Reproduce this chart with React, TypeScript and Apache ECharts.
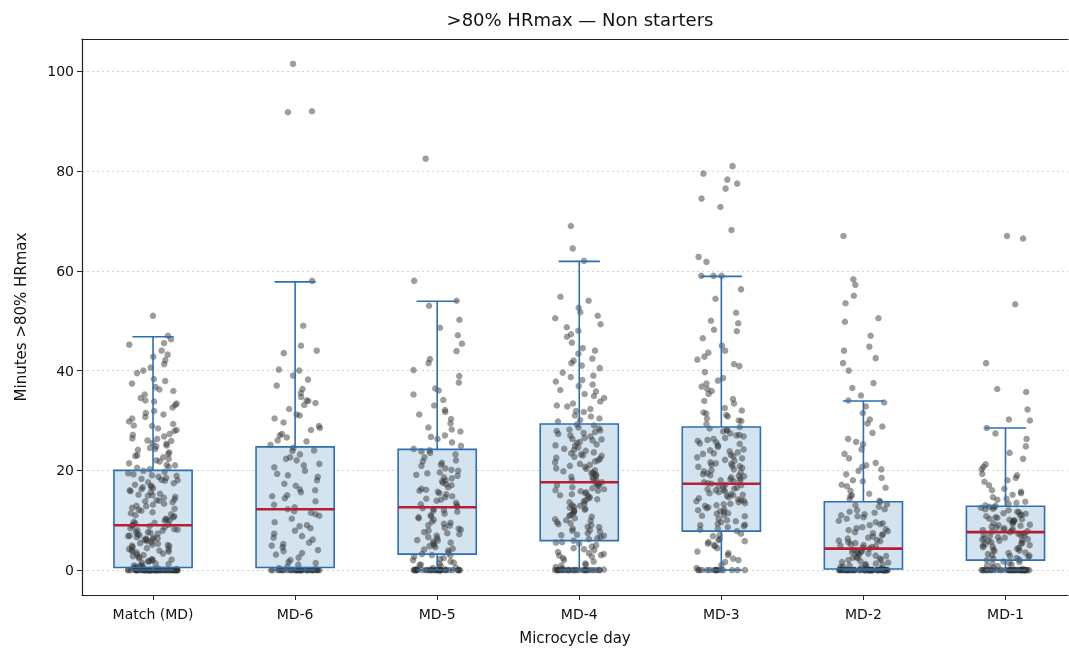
import React, { useEffect, useRef } from "react";
import * as echarts from "echarts";

const categories = ["Match (MD)", "MD-6", "MD-5", "MD-4", "MD-3", "MD-2", "MD-1"];
const yTicks = [0, 20, 40, 60, 80, 100];

// Box statistics
const boxLow = [0, 0, 0, 0, 0, 0, 0];
const boxQ1 = [0.5, 0.5, 3.2, 5.9, 7.8, 0.2, 2.0];
const boxMedian = [9.0, 12.2, 12.6, 17.6, 17.3, 4.3, 7.6];
const boxQ3 = [20.0, 24.7, 24.2, 29.3, 28.7, 13.7, 12.8];
const boxHigh = [46.8, 57.8, 53.9, 61.9, 58.9, 33.9, 28.5];

// Individual observations (estimated)
const matchPts = [
  0,0,0,0,0,0,0,0,0,0, 0,0,0,0,0,0,0,0,0,0, 0,0,0,0,0,0,0,0,0,0, 0,0,0,0,0,0,0,0,0,0,
  0,0,0,0,0,0,0.1,0.2,0.3,0.4, 0.6,0.9,1.2,1.3,1.7,2.1,2.2,2.6,3.0,3.1,
  3.5,3.8,4.1,4.2,4.6,4.9,5.3,5.4,5.8,6.0, 6.1,6.5,6.6,6.9,7.2,7.3,7.7,7.9,8.0,8.4,
  8.6,8.8,9.0,1.5,2.8,4.4,5.1,6.3,7.5,8.2, 9.1,9.4,9.5,9.9,10.2,10.3,10.8,11.0,11.4,11.6,
  11.9,12.3,12.5,12.9,13.1,13.6,13.8,14.0,14.5,14.7, 15.1,15.3,15.8,16.0,16.4,16.7,16.9,17.4,17.6,18.0,
  18.3,18.5,18.9,19.2,19.4,19.7,19.9,12.1,14.2,16.2, 20.2,20.7,21.1,21.4,22.0,22.3,22.9,23.3,23.6,24.1,
  24.5,25.0,25.3,25.9,26.4,26.8,27.3,27.9,28.4,28.9, 29.3,29.8,30.4,31.2,31.9,32.6,33.1,33.8,34.5,35.2,
  35.9,36.7,37.4,38.3,39.5,40.6,41.3,42.1,42.8,44.0, 45.2,45.5,46.3,47.0,51.0,21.8,23.0,26.0,28.1,30.7,
  0.2,1.9,3.3,4.8,6.8,8.9,10.6,13.3,15.6,17.1, 18.7,20.5,24.8,27.1,33.4,36.2,40.0,43.2,0.7,5.6,
  0,0,0,0,0,0,0,0,0,0, 1.0,2.4,3.7,5.0,6.4,7.0,8.1,9.7,11.2,12.8,
  13.9,15.0,16.6,17.9,19.0,2.0,4.0,6.2,10.0,14.9, 0,0,0,0,0,0.3,0.8,1.8,3.9,7.6,
  18.1,22.6,25.5,29.0,31.5,34.0,37.9,21.0,24.3,26.3
];
const md6Pts = [
  0,0,0,0,0,0,0,0,0,0, 0,0,0,0,0,0,0,0,0,0, 0,0,0,0,0,0,0,0,0.2,0.4,
  0.7,1.1,1.6,2.0,2.5,3.1,3.4,4.0,4.6,5.2, 5.5,6.1,6.8,7.3,7.9,8.4,9.0,9.6,10.3,10.9,
  11.2,11.8,12.2,12.6,13.1,13.8,14.4,15.0,15.6,16.2, 16.9,17.3,18.0,18.7,19.3,19.9,20.6,21.3,22.0,22.6,
  23.2,23.9,24.5,25.1,25.8,26.6,27.3,28.1,28.9,29.6, 30.4,31.2,32.3,33.1,33.9,34.7,35.5,37.0,39.0,40.0,
  40.2,43.5,44.0,45.0,49.0,58.0,91.8,92.0,101.5,3.8, 8.8,14.8,19.0,24.0,27.0,33.5,36.3,38.2,6.5,21.0,
  0,0,0,0,0,0,1.4,4.9,11.5,16.0, 22.3,26.0,28.5,31.0,34.0
];
const md5Pts = [
  0,0,0,0,0,0,0,0,0,0, 0,0,0,0,0,0,0,0,0,0, 0,0,0,0.2,0.4,0.5,0.8,1.0,1.3,1.7,
  2.0,2.4,2.7,3.0,3.2,3.5,3.9,4.3,4.6,5.0, 5.3,5.7,6.0,6.4,6.9,7.2,7.6,8.1,8.5,8.9,
  9.3,9.7,10.1,10.4,10.8,11.3,11.7,12.0,12.4,12.7, 13.0,13.5,13.9,14.3,14.8,15.2,15.7,16.1,16.6,17.0,
  17.5,18.0,18.4,18.9,19.4,19.9,20.4,20.9,21.5,22.0, 22.6,23.2,23.8,24.3,24.9,25.6,26.3,27.0,27.8,28.6,
  29.4,30.3,31.2,32.1,33.0,34.1,35.2,36.4,37.6,38.9, 40.1,41.5,42.3,43.9,45.4,47.1,48.6,50.2,53.0,54.0,
  58.0,82.5,1.5,4.8,9.0,12.2,15.9,19.1,23.5,28.2, 31.7,36.0,2.9,7.9,14.1,17.8,21.1,26.7,10.6,6.6,
  0,0,0,0,0.1,1.1,5.9,11.0,16.3,20.1, 0,0,0,0,0,2.2,4.1,7.4,9.5,13.2,
  15.4,18.6,21.8,24.0,5.5,8.3,11.9,14.6,17.2,19.6
];
const md4Pts = [
  0,0,0,0,0,0,0,0,0,0, 0,0,0,0,0,0,0,0,0.3,0.6,
  0.9,1.3,1.7,2.0,2.4,2.9,3.2,3.6,4.0,4.4, 4.7,5.0,5.3,5.6,5.9,6.2,6.6,7.0,7.4,7.9,
  8.3,8.7,9.2,9.6,10.0,10.4,10.9,11.3,11.8,12.1, 12.5,12.9,13.3,13.8,14.2,14.6,15.0,15.4,15.8,16.2,
  16.6,17.0,17.3,17.6,17.9,18.3,18.7,19.1,19.6,20.0, 20.4,20.9,21.3,21.8,22.3,22.7,23.2,23.6,24.1,24.6,
  25.0,25.5,26.0,26.5,27.0,27.5,28.0,28.6,29.2,29.8, 30.4,31.0,31.7,32.3,33.0,33.8,34.5,35.3,36.1,36.9,
  37.8,38.7,39.6,40.5,41.5,42.4,43.4,44.5,45.6,46.8, 48.0,48.7,49.3,50.5,51.7,52.6,54.0,54.8,62.0,64.5,
  69.0,1.1,3.4,5.5,7.7,9.9,12.3,14.4,16.4,18.5, 20.7,22.9,25.2,27.7,30.1,33.4,37.2,41.0,44.0,26.2,
  2.7,8.0,11.0,15.6,19.3,23.9,28.4,34.9,39.0,17.4, 6.9,10.7,13.6,16.0,18.0,21.1,23.4,26.8,29.0,31.9,
  0,0,0,0,0.1,4.2,9.4,14.0,19.8,24.3, 35.8,38.1,42.0,47.3,51.0,12.7,15.2,22.0,27.3,32.8,
  0,0,0,0,0,7.1,9.0,11.6,13.0,14.9, 16.9,18.9,20.3,22.5,24.9,26.3,28.2,8.6,12.0,19.4,
  21.6,23.0,25.7,27.9,17.0,15.9,10.2,6.4,3.0,30.8
];
const md3Pts = [
  0,0,0,0,0,0,0,0,0.4,1.0, 1.6,2.3,3.0,3.7,4.4,5.0,5.6,6.2,6.8,7.3,
  7.8,8.3,8.8,9.3,9.8,10.3,10.8,11.3,11.7,12.2, 12.6,13.0,13.4,13.8,14.2,14.6,15.0,15.4,15.8,16.2,
  16.5,16.8,17.1,17.3,17.6,17.9,18.2,18.6,19.0,19.4, 19.8,20.2,20.7,21.1,21.6,22.1,22.6,23.1,23.6,24.2,
  24.7,25.3,25.9,26.5,27.1,27.8,28.4,28.7,29.3,30.0, 30.8,31.6,32.5,33.4,34.3,35.3,36.3,37.4,38.5,39.7,
  40.9,42.2,43.6,45.0,46.5,47.9,49.5,50.0,51.6,54.4, 56.3,59.0,59.0,59.0,61.8,62.8,68.2,72.8,74.5,76.5,
  77.5,78.3,79.5,81.0,2.0,5.3,9.0,11.0,13.2,15.2, 17.0,18.8,21.9,25.6,29.9,33.9,38.0,44.0,4.8,12.9,
  16.0,20.5,26.8,31.1,36.8,42.8,48.2,14.4,23.4,19.6, 8.1,10.0,12.4,14.9,16.7,18.4,20.9,22.8,25.0,27.4,
  0,0,0,0,6.0,9.6,13.6,17.8,21.4,24.0, 28.1,32.0,35.9,41.3,15.6,18.0,11.8,26.1,30.4,7.0,
  9.1,10.9,12.0,13.3,14.0,15.1,16.3,17.4,18.9,20.0, 21.3,22.4,23.8,25.4,27.0,28.0,11.4,13.9,16.1,19.2,
  0,0,0,3.4,5.8,8.6,20.8,23.3,26.3,31.4
];
const md2Pts = [
  0,0,0,0,0,0,0,0,0,0, 0,0,0,0,0,0,0,0,0,0, 0,0,0,0,0,0,0,0,0,0, 0,0,0,0,0,0,0,0,0,0,
  0.1,0.3,0.5,0.7,0.9,1.1,1.3,1.6,1.8,2.1, 2.3,2.6,2.9,3.1,3.4,3.7,4.0,4.3,4.6,4.9,
  5.2,5.6,5.9,6.3,6.7,7.0,7.4,7.8,8.2,8.6, 9.0,9.4,9.9,10.3,10.8,11.2,11.7,12.2,12.7,13.2,
  13.7,14.2,14.8,15.3,15.9,16.5,17.1,17.8,18.5,19.2, 19.9,20.7,21.5,22.4,23.3,24.2,25.2,26.3,27.5,28.8,
  30.2,31.5,32.8,33.6,34.0,35.0,36.5,37.5,40.0,41.5, 42.5,44.0,44.8,47.0,49.8,50.5,53.5,55.0,57.2,58.3,
  67.0,1.0,2.5,3.9,5.4,7.2,9.6,12.0,15.0,18.0, 21.0,25.7,29.4,0.6,2.0,3.3,6.0,8.0,10.6,4.8,
  0,0,0,0,0,0,0,0,0.2,0.4, 1.5,2.8,3.6,5.0,6.5,8.4,11.0,13.9,16.8,20.2,
  0,0,0,0,0,0,1.2,2.4,3.5,4.5, 5.8,7.6,9.2,11.5,13.0
];
const md1Pts = [
  0,0,0,0,0,0,0,0,0,0, 0,0,0,0,0,0,0,0,0,0, 0,0,0,0,0,0,0,0,0.2,0.5,
  0.8,1.1,1.4,1.7,2.0,2.3,2.6,2.9,3.2,3.5, 3.8,4.1,4.4,4.7,5.0,5.3,5.6,5.9,6.2,6.5,
  6.8,7.0,7.3,7.6,7.8,8.1,8.4,8.7,9.0,9.3, 9.6,9.9,10.2,10.5,10.8,11.1,11.4,11.7,12.0,12.3,
  12.6,12.9,13.3,13.7,14.1,14.6,15.1,15.7,16.3,17.0, 17.7,18.5,19.3,20.2,21.2,22.3,23.5,24.8,26.3,27.4,
  28.5,30.0,30.2,32.2,35.7,36.3,41.5,53.3,66.5,67.0, 1.6,3.0,4.6,6.0,7.4,8.9,10.0,11.6,13.0,15.4,
  18.0,20.7,2.4,5.5,9.4,12.5,0.9,6.6,10.6,14.3, 0,0,0,0,0,1.3,3.9,7.1,8.2,9.8,
  11.0,12.2,13.5,16.0,19.0,4.9,6.3,7.9,10.3,5.8, 0,0,0,0,0,0,2.1,3.4,4.3,5.2,
  6.1,6.9,7.7,8.5,9.1,10.1,11.3,12.7,2.8,8.0
];
const pointSets = [matchPts, md6Pts, md5Pts, md4Pts, md3Pts, md2Pts, md1Pts];

const BOX_W = 0.55;
const CAP_W = 0.29;
const JITTER = 0.35;
const BLUE = "#2f6eb0";
const RED = "#b51f33";
const FONT = "DejaVu Sans";

// deterministic jitter offset in [0,1) for a point's horizontal placement
function jitterFrac(k: number, c: number) {
  const s = Math.sin(k * 12.9898 + c * 78.233) * 43758.5453;
  return s - Math.floor(s);
}

export default function App() {
  const ref = useRef<HTMLDivElement>(null);
  useEffect(() => {
    if (!ref.current) return;
    const chart = echarts.init(ref.current, undefined, { renderer: "svg" });

    const boxData = categories.map((_, i) => [i, boxLow[i], boxQ1[i], boxMedian[i], boxQ3[i], boxHigh[i]]);
    const scatterData: number[][] = [];
    pointSets.forEach((arr, c) => {
      arr.forEach((v, k) => {
        scatterData.push([c + (jitterFrac(k, c) - 0.5) * JITTER, v]);
      });
    });

    const boxFill = (params: any, api: any) => {
      const x = api.value(0);
      const q1 = api.coord([x, api.value(2)]);
      const q3 = api.coord([x, api.value(4)]);
      const hw = api.size([BOX_W, 0])[0] / 2;
      return {
        type: "rect",
        shape: { x: q1[0] - hw, y: q3[1], width: hw * 2, height: q1[1] - q3[1] },
        style: { fill: "#d3e4f0", stroke: "none" },
      };
    };
    const boxLines = (params: any, api: any) => {
      const x = api.value(0);
      const lo = api.coord([x, api.value(1)]);
      const q1 = api.coord([x, api.value(2)]);
      const md = api.coord([x, api.value(3)]);
      const q3 = api.coord([x, api.value(4)]);
      const hi = api.coord([x, api.value(5)]);
      const hw = api.size([BOX_W, 0])[0] / 2;
      const cw = api.size([CAP_W, 0])[0] / 2;
      const ls = { stroke: BLUE, lineWidth: 1.6, fill: "none" };
      return {
        type: "group",
        children: [
          { type: "line", shape: { x1: q3[0], y1: q3[1], x2: hi[0], y2: hi[1] }, style: ls },
          { type: "line", shape: { x1: q1[0], y1: q1[1], x2: lo[0], y2: lo[1] }, style: ls },
          { type: "line", shape: { x1: hi[0] - cw, y1: hi[1], x2: hi[0] + cw, y2: hi[1] }, style: ls },
          { type: "line", shape: { x1: lo[0] - cw, y1: lo[1], x2: lo[0] + cw, y2: lo[1] }, style: ls },
          { type: "rect", shape: { x: q1[0] - hw, y: q3[1], width: hw * 2, height: q1[1] - q3[1] }, style: ls },
          { type: "line", shape: { x1: md[0] - hw, y1: md[1], x2: md[0] + hw, y2: md[1] }, style: { stroke: RED, lineWidth: 2.6 } },
        ],
      };
    };

    chart.setOption({
      animation: false,
      textStyle: { fontFamily: FONT },
      title: {
        text: ">80% HRmax \u2014 Non starters",
        left: 575,
        top: 5,
        textAlign: "center",
        textStyle: { fontFamily: FONT, fontSize: 18, fontWeight: "normal", color: "#111" },
      },
      grid: { left: 82, top: 39, right: 1, bottom: 55, containLabel: false },
      xAxis: [
        {
          type: "value",
          min: -0.5,
          max: 6.44,
          name: "Microcycle day",
          nameLocation: "middle",
          nameGap: 35,
          nameTextStyle: { fontFamily: FONT, fontSize: 15, color: "#111" },
          axisLine: { show: true, onZero: false, lineStyle: { color: "#222", width: 1.2 } },
          axisTick: { show: true, length: 5, customValues: [0, 1, 2, 3, 4, 5, 6], lineStyle: { color: "#222" } },
          axisLabel: {
            customValues: [0, 1, 2, 3, 4, 5, 6],
            formatter: (v: number) => categories[Math.round(v)] ?? "",
            fontFamily: FONT,
            fontSize: 14,
            color: "#111",
            margin: 12,
          },
          splitLine: { show: false },
        },
        {
          type: "value",
          position: "top",
          min: -0.5,
          max: 6.44,
          axisLine: { show: true, onZero: false, lineStyle: { color: "#222", width: 1.2 } },
          axisTick: { show: false },
          axisLabel: { show: false },
          splitLine: { show: false },
        },
      ],
      yAxis: {
        type: "value",
        min: -5,
        max: 106.5,
        name: "Minutes >80% HRmax",
        nameLocation: "middle",
        nameGap: 54,
        nameRotate: 90,
        nameTextStyle: { fontFamily: FONT, fontSize: 15, color: "#111" },
        axisLine: { show: true, onZero: false, lineStyle: { color: "#222", width: 1.2 } },
        axisTick: { show: true, length: 5, customValues: yTicks, lineStyle: { color: "#222" } },
        axisLabel: { customValues: yTicks, fontFamily: FONT, fontSize: 14, color: "#111", margin: 8 },
        splitLine: { show: true, lineStyle: { color: "#cfcfcf", type: [2, 3], width: 1 } },
      },
      series: [
        {
          type: "custom",
          renderItem: boxFill,
          data: boxData,
          encode: { x: 0, y: [1, 2, 3, 4, 5] },
          z: 1,
          silent: true,
        },
        {
          type: "scatter",
          data: scatterData,
          symbolSize: 6.5,
          itemStyle: { color: "#333333", opacity: 0.48 },
          z: 2,
          silent: true,
        },
        {
          type: "custom",
          renderItem: boxLines,
          data: boxData,
          encode: { x: 0, y: [1, 2, 3, 4, 5] },
          z: 3,
          silent: true,
        },
      ],
    });
    return () => chart.dispose();
  }, []);
  return <div ref={ref} style={{ position: "fixed", left: 0, top: 0, width: 1069, height: 650 }} />;
}
